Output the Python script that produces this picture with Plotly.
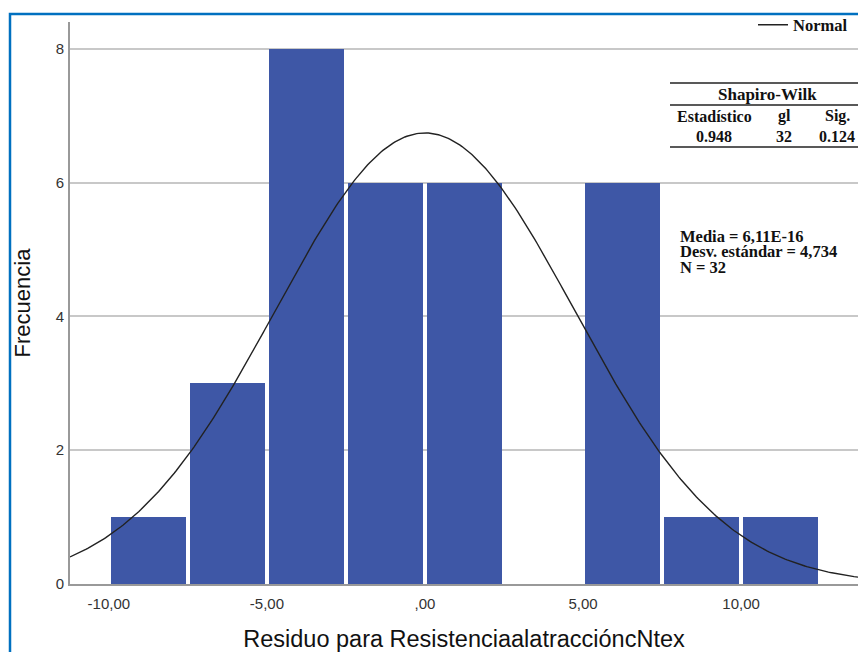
import math
import plotly.graph_objects as go

# ---- data ----
bin_starts = [-10.0, -7.5, -5.0, -2.5, 0.0, 2.5, 5.0, 7.5, 10.0]
bin_width = 2.5
counts = [1, 3, 8, 6, 6, 0, 6, 1, 1]
mean_val = 6.11e-16
sd_val = 4.734
n_val = 32
x_tickvals = [-10, -5, 0, 5, 10]
x_ticktext = ["-10,00", "-5,00", ",00", "5,00", "10,00"]
y_tickvals = [0, 2, 4, 6, 8]
sw_headers = ["Estadístico", "gl", "Sig."]
sw_values = ["0.948", "32", "0.124"]
stats_lines = ["Media = 6,11E-16", "Desv. estándar = 4,734", "N = 32"]

# ---- layout geometry (page pixels) ----
W, H = 858, 652
L, R, T, B = 70, 858, 22, 584
x_range = [-11.23, 13.7]
y_range = [0, 8.4]


def px(xp):
    return (xp - L) / (R - L)


def py(yp):
    return (B - yp) / (B - T)


centers = [s + bin_width / 2 for s in bin_starts]

# normal curve fitted from the stated mean / sd / N
xs = [x_range[0] + i * (x_range[1] - x_range[0]) / 400 for i in range(401)]
scale = n_val * bin_width / (sd_val * math.sqrt(2 * math.pi))
ys = [scale * math.exp(-0.5 * ((x - mean_val) / sd_val) ** 2) for x in xs]

fig = go.Figure()
fig.add_trace(go.Bar(
    x=centers, y=counts, width=[bin_width * 0.95] * len(centers),
    marker=dict(color="rgb(62,87,166)", line=dict(width=0)),
    showlegend=False, hoverinfo="x+y",
))
fig.add_trace(go.Scatter(
    x=xs, y=ys, mode="lines", name="<b>Normal</b>",
    line=dict(color="#222222", width=1.4), showlegend=True,
))

serif = "Liberation Serif, Times New Roman, serif"
sans = "Liberation Sans, Arial, sans-serif"

shapes = []
annotations = []


def txt(text, x, y, size, xanchor="center"):
    annotations.append(dict(text=text, xref="paper", yref="paper",
                            x=px(x), y=py(y), xanchor=xanchor, yanchor="middle",
                            showarrow=False,
                            font=dict(family=serif, size=size, color="#111")))


# blue frame
shapes.append(dict(type="rect", xref="paper", yref="paper",
                   x0=px(10), x1=px(900), y0=py(14), y1=py(700),
                   line=dict(color="#0070C0", width=2.5), fillcolor="rgba(0,0,0,0)",
                   layer="above"))

# Shapiro-Wilk table
for yl in (83, 105, 147):
    shapes.append(dict(type="line", xref="paper", yref="paper",
                       x0=px(670), x1=px(870), y0=py(yl), y1=py(yl),
                       line=dict(color="#222222", width=1.3)))
txt("<b>Shapiro-Wilk</b>", 767, 95, 17)
for cx, htxt, vtxt in zip((714, 784, 837), sw_headers, sw_values):
    txt("<b>%s</b>" % htxt, cx, 116, 16)
    txt("<b>%s</b>" % vtxt, cx, 137, 16)

# stats text
for i, line in enumerate(stats_lines):
    txt("<b>%s</b>" % line, 678, 236 + 15.8 * i, 16.5, xanchor="left")

fig.update_layout(
    width=W, height=H,
    margin=dict(l=L, r=W - R, t=T, b=H - B),
    paper_bgcolor="white", plot_bgcolor="white",
    bargap=0,
    xaxis=dict(range=x_range, tickvals=x_tickvals, ticktext=x_ticktext,
               showgrid=False, zeroline=False, showline=True,
               linecolor="#999999", linewidth=2, ticks="",
               ticklabelstandoff=5,
               tickfont=dict(family=sans, size=15, color="#333333"),
               title=dict(text="Residuo para ResistenciaalatraccióncNtex",
                          font=dict(family=sans, size=23.5, color="#111111"),
                          standoff=23)),
    yaxis=dict(range=y_range, tickvals=y_tickvals,
               showgrid=True, gridcolor="#c8c8c8", gridwidth=1.5,
               zeroline=False, showline=True, linecolor="#999999", linewidth=2,
               ticks="", ticklabelstandoff=1,
               tickfont=dict(family=sans, size=15, color="#333333"),
               title=dict(text="Frecuencia",
                          font=dict(family=sans, size=22, color="#111111"),
                          standoff=19)),
    legend=dict(x=px(853), xanchor="right", y=py(25), yanchor="middle",
                bgcolor="rgba(0,0,0,0)", borderwidth=0,
                font=dict(family=serif, size=16.5, color="#111"),
                itemwidth=30),
    shapes=shapes,
    annotations=annotations,
)

fig.write_html(
    "out.html",
    config={"displayModeBar": False},
    post_script="document.body.style.margin='0';document.body.style.overflow='hidden';",
)
